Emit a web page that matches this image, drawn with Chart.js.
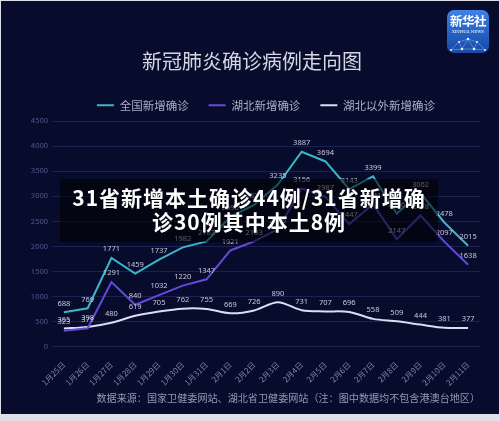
<!DOCTYPE html>
<html>
<head>
<meta charset="utf-8">
<title>新冠肺炎确诊病例走向图</title>
<script src="https://cdn.jsdelivr.net/npm/chart.js@4.4.1/dist/chart.umd.min.js"></script>
<style>
    html, body { margin: 0; padding: 0; background: #dcdfe8; width: 500px; height: 421px; overflow: hidden; }
    #wrap { position: absolute; left: 1px; top: 1px; width: 498px; height: 413px; background: #080c2c; }
    #wrap canvas { position: absolute; left: 0; top: 0; }
    .logo {
        position: absolute; left: 446px; top: 9px; width: 42px; height: 43px; border-radius: 7px;
        background: linear-gradient(180deg, #3f83e4 0%, #2560c4 55%, #1b4aa6 100%);
        color: #fff; text-align: center; font-family: "Noto Sans CJK SC", sans-serif; overflow: hidden;
    }
    .logo .cn { position: absolute; left: 0; right: 0; top: 4px; font-size: 12.5px; font-weight: 700; letter-spacing: -0.5px; line-height: 14px; }
    .logo .en { position: absolute; left: 0; right: 0; top: 19px; font-size: 4px; line-height: 5px; font-family: "DejaVu Serif", serif; }
    .logo svg { position: absolute; left: 0; top: 24px; }
    .banner {
        position: absolute; left: 59px; top: 178px; width: 378px; height: 63px;
        background: rgba(0, 0, 0, 0.55); color: #fff; text-align: center;
        font-family: "Noto Sans CJK SC", sans-serif; font-weight: 700; font-size: 21px;
        line-height: 24px; letter-spacing: 1px; padding-top: 6px; box-sizing: border-box;
        text-shadow: 0 0 2px rgba(0,0,0,0.6);
    }
</style>
</head>
<body>
<div id="wrap">
    <canvas id="trendChart" width="498" height="413"></canvas>
    <div class="logo">
        <div class="cn">新华社</div>
        <div class="en">XINHUA NEWS</div>
        <svg width="42" height="19" viewBox="0 0 42 19">
            <g stroke="#9cc8ff" stroke-width="0.5" opacity="0.8" fill="none">
                <path d="M4 16 L12 8 L21 5 L30 8 L38 16"/>
                <path d="M12 8 L15 15 L21 5 L27 15 L30 8"/>
                <path d="M4 16 L15 15 L27 15 L38 16"/>
            </g>
            <g fill="#e6f2ff">
                <circle cx="21" cy="5" r="1.3"/><circle cx="12" cy="8" r="1.1"/><circle cx="30" cy="8" r="1.1"/>
                <circle cx="15" cy="15" r="1.3"/><circle cx="27" cy="15" r="1.3"/><circle cx="4" cy="16" r="1"/><circle cx="38" cy="16" r="1"/>
            </g>
        </svg>
    </div>
    <div class="banner">31省新增本土确诊44例/31省新增确<br>诊30例其中本土8例</div>
</div>
<script>
// Data
const dates = ['1月25日', '1月26日', '1月27日', '1月28日', '1月29日', '1月30日', '1月31日', '2月1日', '2月2日',
    '2月3日', '2月4日', '2月5日', '2月6日', '2月7日', '2月8日', '2月9日', '2月10日', '2月11日'];
const nationalCases = [688, 769, 1771, 1459, 1737, 1982, 2102, 2590, 2829, 3235, 3887, 3694, 3143, 3399, 2656, 3062, 2478, 2015];
const hubeiCases = [323, 371, 1291, 840, 1032, 1220, 1347, 1921, 2103, 2345, 3156, 2987, 2447, 2841, 2147, 2618, 2097, 1638];
const outsideHubeiCases = [365, 398, 480, 619, 705, 762, 755, 669, 726, 890, 731, 707, 696, 558, 509, 444, 381, 377];
const seriesNames = ['全国新增确诊', '湖北新增确诊', '湖北以外新增确诊'];
const yMax = 4500;
const yStep = 500;

const cjkFont = '"Noto Sans CJK SC", sans-serif';

// value labels above every point
const pointLabels = {
    id: 'pointLabels',
    afterDatasetsDraw(chart) {
        const ctx = chart.ctx;
        ctx.save();
        ctx.font = '7.5px "Noto Sans", sans-serif';
        ctx.fillStyle = '#c5c8da';
        ctx.textAlign = 'center';
        ctx.textBaseline = 'bottom';
        chart.data.datasets.forEach((ds, i) => {
            chart.getDatasetMeta(i).data.forEach((pt, j) => {
                ctx.fillText(ds.data[j], pt.x, pt.y - 5);
            });
        });
        ctx.restore();
    }
};

// legend row sits a little right of the title in the original
const legendNudge = {
    id: 'legendNudge',
    afterLayout(chart) {
        chart.legend.left += 14;
        chart.legend.right += 14;
    }
};

const ctx = document.getElementById('trendChart').getContext('2d');
const chart = new Chart(ctx, {
    type: 'line',
    data: {
        labels: dates,
        datasets: [{
            label: seriesNames[0],
            data: nationalCases,
            borderColor: '#3cb6c6',
            backgroundColor: '#3cb6c6',
            borderWidth: 2,
            tension: 0
        }, {
            label: seriesNames[1],
            data: hubeiCases,
            borderColor: '#6549dc',
            backgroundColor: '#6549dc',
            borderWidth: 2,
            tension: 0
        }, {
            label: seriesNames[2],
            data: outsideHubeiCases,
            borderColor: '#dcdcf2',
            backgroundColor: '#dcdcf2',
            borderWidth: 2,
            tension: 0.3
        }]
    },
    options: {
        responsive: false,
        animation: false,
        elements: { point: { radius: 0, hoverRadius: 0 } },
        layout: { padding: { left: 23, right: 19, top: 0, bottom: 0 } },
        plugins: {
            tooltip: { enabled: false },
            title: {
                display: true,
                text: '新冠肺炎确诊病例走向图',
                color: '#d3d6e3',
                font: { family: cjkFont, size: 20, weight: 'normal' },
                padding: { top: 30, bottom: 6 }
            },
            legend: {
                display: true,
                labels: {
                    usePointStyle: true,
                    pointStyle: 'line',
                    pointStyleWidth: 17,
                    padding: 20,
                    color: '#a9aec6',
                    font: { family: cjkFont, size: 11.5 }
                }
            },
            subtitle: {
                display: true,
                position: 'bottom',
                align: 'end',
                text: '数据来源：国家卫健委网站、湖北省卫健委网站（注：图中数据均不包含港澳台地区）',
                color: '#9498b1',
                font: { family: cjkFont, size: 10.1 },
                padding: { top: 5, bottom: 10 }
            }
        },
        scales: {
            x: {
                offset: true,
                grid: { display: false },
                border: { display: false },
                ticks: {
                    autoSkip: false,
                    minRotation: 45,
                    maxRotation: 45,
                    padding: 5,
                    color: '#7c83a9',
                    font: { family: cjkFont, size: 8 }
                },
                afterFit(scale) { scale.height = 40; }
            },
            y: {
                min: 0,
                max: yMax,
                grid: { color: '#1b2250', lineWidth: 1, drawTicks: false },
                border: { display: false },
                ticks: {
                    stepSize: yStep,
                    padding: 4,
                    color: '#4f5889',
                    font: { family: '"Noto Sans", sans-serif', size: 7.5 },
                    callback: (value) => String(value)
                },
                afterFit(scale) {
                    scale.width = 28;
                    scale.paddingTop = 120;
                }
            }
        }
    },
    plugins: [pointLabels, legendNudge]
});
</script>
</body>
</html>
